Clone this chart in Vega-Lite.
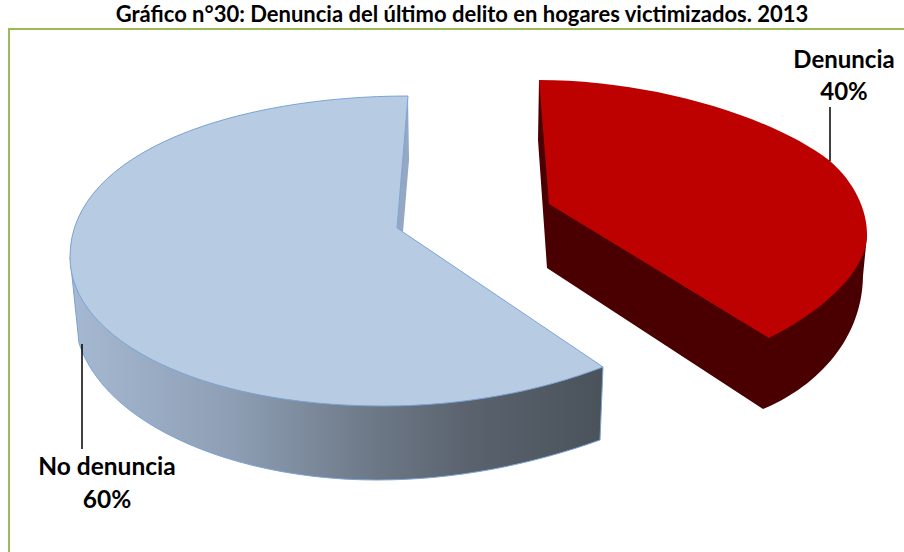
{
  "$schema": "https://vega.github.io/schema/vega-lite/v6.json",
  "width": 904,
  "height": 522,
  "autosize": "none",
  "padding": {"left": 0, "top": 30, "right": 0, "bottom": 0},
  "background": "white",
  "config": {"view": {"stroke": null}},
  "title": {
    "text": "Gráfico n°30: Denuncia del último delito en hogares victimizados. 2013",
    "font": "Lato",
    "fontSize": 22,
    "fontWeight": "bold",
    "color": "#000000",
    "anchor": "middle",
    "frame": "group",
    "baseline": "alphabetic",
    "dx": 10,
    "offset": -19
  },
  "data": {"values": [
    {"Categoria": "No denuncia", "Porcentaje": 0.6},
    {"Categoria": "Denuncia", "Porcentaje": 0.4}
  ]},
  "encoding": {
    "x": {"field": "Categoria", "type": "nominal", "axis": null,
      "scale": {"type": "point", "padding": 0, "domain": ["No denuncia", "Denuncia"], "range": [398, 549]}},
    "y": {"field": "Categoria", "type": "nominal", "axis": null,
      "scale": {"type": "point", "padding": 0, "domain": ["No denuncia", "Denuncia"], "range": [198, 174]}}
  },
  "layer": [
    {"transform": [{"filter": "datum.Categoria === 'No denuncia'"}],
     "mark": {"type": "point", "filled": false, "opacity": 1, "size": 4, "stroke": "#9bbb59", "strokeWidth": 2,
       "shape": "M-389,400 L-389,-199 L600,-199"}},
    {"transform": [{"filter": "datum.Categoria === 'No denuncia'"}],
     "mark": {"type": "point", "filled": true, "opacity": 1, "size": 4, "stroke": "#7ba3d6", "strokeWidth": 1,
       "fill": {"gradient": "linear", "x1": 0, "y1": 0, "x2": 1, "y2": 0, "stops": [
         {"offset": 0, "color": "#a6b9d2"},
         {"offset": 0.3, "color": "#8e9fb5"},
         {"offset": 0.55, "color": "#6f7b8a"},
         {"offset": 0.75, "color": "#5a626e"},
         {"offset": 1, "color": "#4a525a"}]},
       "shape": "M-328,29 L-319,115 C-293,197 -163,252 -21,252 C57,252 132,237 202,212 L205,139 L-15,72 Z"}},
    {"transform": [{"filter": "datum.Categoria === 'No denuncia'"}],
     "mark": {"type": "point", "filled": true, "opacity": 1, "size": 4, "fill": "#94a8c4", "strokeWidth": 0,
       "shape": "M10,-132 L11,-68 L5,4 L-1,0 Z"}},
    {"transform": [{"filter": "datum.Categoria === 'No denuncia'"}],
     "mark": {"type": "point", "filled": true, "opacity": 1, "size": 4, "fill": "#b7cce3", "stroke": "#7ba3d6", "strokeWidth": 1,
       "shape": "M10,-132 C-158,-132 -328,-78 -328,29 C-328,112 -198,178 -15,178 C67,178 142,163 205,139 L-1,0 Z"}},
    {"transform": [{"filter": "datum.Categoria === 'Denuncia'"}],
     "mark": {"type": "point", "filled": true, "opacity": 1, "size": 4, "fill": "#4a0000", "strokeWidth": 0,
       "shape": "M-10,-124 L-11,-64 L-2,64 L214,205 C261,186 313,141 314,72 L318,31 L151,-54 Z"}},
    {"transform": [{"filter": "datum.Categoria === 'Denuncia'"}],
     "mark": {"type": "point", "filled": true, "opacity": 1, "size": 4, "fill": "#bd0000", "strokeWidth": 0,
       "shape": "M-10,-124 C101,-124 221,-89 281,-43 C306,-21 318,6 318,31 C318,66 276,106 220,134 L0,0 Z"}},
    {"transform": [{"filter": "datum.Categoria === 'Denuncia'"}],
     "mark": {"type": "point", "filled": false, "opacity": 1, "size": 4, "stroke": "#000000", "strokeWidth": 1.5,
       "shape": "M281,-97 L281,-43"}},
    {"transform": [{"filter": "datum.Categoria === 'No denuncia'"}],
     "mark": {"type": "point", "filled": false, "opacity": 1, "size": 4, "stroke": "#000000", "strokeWidth": 1.5,
       "shape": "M-316,116 L-316,221"}},
    {"transform": [{"filter": "datum.Categoria === 'Denuncia'"}],
     "mark": {"type": "text", "font": "Lato", "fontSize": 24, "fontWeight": "bold", "color": "#000000", "align": "center", "baseline": "alphabetic", "dx": 295, "dy": -136},
     "encoding": {"text": {"field": "Categoria", "type": "nominal"}}},
    {"transform": [{"filter": "datum.Categoria === 'Denuncia'"}],
     "mark": {"type": "text", "font": "Lato", "fontSize": 24, "fontWeight": "bold", "color": "#000000", "align": "center", "baseline": "alphabetic", "dx": 295, "dy": -104},
     "encoding": {"text": {"field": "Porcentaje", "type": "quantitative", "format": ".0%"}}},
    {"transform": [{"filter": "datum.Categoria === 'No denuncia'"}],
     "mark": {"type": "text", "font": "Lato", "fontSize": 24.5, "fontWeight": "bold", "color": "#000000", "align": "center", "baseline": "alphabetic", "dx": -291, "dy": 247},
     "encoding": {"text": {"field": "Categoria", "type": "nominal"}}},
    {"transform": [{"filter": "datum.Categoria === 'No denuncia'"}],
     "mark": {"type": "text", "font": "Lato", "fontSize": 24.5, "fontWeight": "bold", "color": "#000000", "align": "center", "baseline": "alphabetic", "dx": -291, "dy": 280},
     "encoding": {"text": {"field": "Porcentaje", "type": "quantitative", "format": ".0%"}}}
  ]
}
